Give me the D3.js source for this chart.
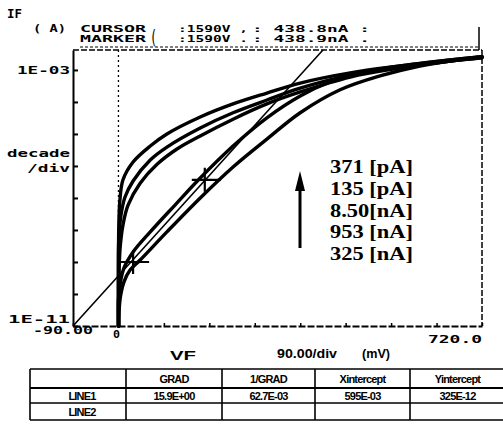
<!DOCTYPE html>
<html>
<head>
<meta charset="utf-8">
<script src="https://cdn.jsdelivr.net/npm/d3@7/dist/d3.min.js"></script>
<style>
  body { margin: 0; background: #fff; }
  svg { display: block; }
  .mono { font-family: "DejaVu Sans Mono", monospace; font-weight: bold; fill: #000; }
  .sans { font-family: "Liberation Sans", Arial, sans-serif; font-weight: bold; fill: #000; }
  .serif { font-family: "Liberation Serif", "Times New Roman", serif; fill: #000; }
</style>
</head>
<body>
<svg id="chart" width="503" height="432"></svg>
<script>
// I-V sweeps, [VF mV, IF A]
const curveA = [[0,1e-11],[0,1.2e-9],[1,2e-8],[3,9e-8],[9,3.7e-7],[29,1.33e-6],[63,4.2e-6],[96,1.0e-5],[162,3.4e-5],[227,8.7e-5],[294,1.9e-4],[360,3.9e-4],[459,8.1e-4],[558,1.33e-3],[657,2.05e-3],[720,2.6e-3]];
const curveB = [[0,1e-11],[0,5.6e-10],[1,6.9e-9],[5,2.9e-8],[13,1.07e-7],[29,3.4e-7],[63,1.54e-6],[96,3.9e-6],[162,1.54e-5],[227,4.6e-5],[294,1.15e-4],[360,2.7e-4],[459,6.9e-4],[558,1.23e-3],[657,1.9e-3],[720,2.6e-3]];
const curveC = [[0,1e-11],[1,2.7e-10],[3,2.4e-9],[9,1.45e-8],[19,6e-8],[43,2.9e-7],[77,1.15e-6],[116,3.4e-6],[162,8.7e-6],[227,2.9e-5],[294,8.7e-5],[360,2.05e-4],[459,6e-4],[558,1.15e-3],[657,1.9e-3],[720,2.4e-3]];
const curveD = [[0,1e-11],[0,6.5e-11],[3,1.9e-10],[11,6.5e-10],[29,2.05e-9],[63,8.7e-9],[112,6e-8],[162,4.2e-7],[227,4.2e-6],[294,3.2e-5],[360,1.54e-4],[419,4.2e-4],[479,8.1e-4],[558,1.33e-3],[657,2.05e-3],[720,2.6e-3]];
const curveE = [[1,1e-11],[3,6.5e-11],[11,2.4e-10],[23,5.6e-10],[43,1.15e-9],[96,8.7e-9],[162,1e-7],[227,9.3e-7],[294,6.9e-6],[360,4.6e-5],[439,2.4e-4],[518,6.5e-4],[597,1.33e-3],[657,1.9e-3],[720,2.4e-3]];
const fitLine = [[-90,1e-11],[405,4.2e-3]];
const cursorPt = [171, 3.7e-7];
const markerPt = [29, 1.0e-9];

const xTicks = [-90,0,90,180,270,360,450,540,630,720];
const yTicks = [1e-11,1e-10,1e-9,1e-8,1e-7,1e-6,1e-5,1e-4,1e-3];
const currentLabels = ["371 [pA]","135 [pA]","8.50[nA]","953 [nA]","325 [nA]"];

const tableHead = ["", "GRAD", "1/GRAD", "Xintercept", "Yintercept"];
const tableRows = [
  ["LINE1", "15.9E+00", "62.7E-03", "595E-03", "325E-12"],
  ["LINE2", "", "", "", ""]
];

const svg = d3.select("#chart");
const x = d3.scaleLinear().domain([-90, 720]).range([73, 482]);
const y = d3.scaleLog().domain([1e-11, 4.2e-3]).range([326, 50]);

function txt(cls, s, px, py, w, size) {
  const t = svg.append("text").attr("class", cls).attr("x", px).attr("y", py)
    .style("font-size", size + "px").attr("xml:space", "preserve").text(s);
  if (w) t.attr("textLength", w).attr("lengthAdjust", "spacingAndGlyphs");
  return t;
}

// frame: left axis solid with inward ticks, others dashed
const yAxis = svg.append("g").attr("transform", "translate(73,0)")
  .call(d3.axisRight(y).tickValues(yTicks).tickSize(5).tickSizeOuter(0).tickFormat(""));
yAxis.selectAll("path,line").attr("stroke", "#000").attr("stroke-width", 2);

const xAxis = svg.append("g").attr("transform", "translate(0,326)")
  .call(d3.axisTop(x).tickValues(xTicks).tickSize(3).tickSizeOuter(0).tickFormat(""));
xAxis.select("path").attr("stroke-width", 2).attr("stroke-dasharray", "7,2");
xAxis.selectAll("line").attr("stroke-width", 1.5);

svg.append("line").attr("x1", x(-90)).attr("x2", x(720)).attr("y1", 50).attr("y2", 50)
  .attr("stroke", "#000").attr("stroke-width", 1.5).attr("stroke-dasharray", "6,2");
svg.append("line").attr("x1", x(720)).attr("x2", x(720)).attr("y1", 50).attr("y2", 326)
  .attr("stroke", "#000").attr("stroke-width", 1.5).attr("stroke-dasharray", "6,2");
svg.append("line").attr("x1", x(0)).attr("x2", x(0)).attr("y1", 50).attr("y2", 326)
  .attr("stroke", "#000").attr("stroke-width", 1.3).attr("stroke-dasharray", "2,3");
svg.append("line").attr("x1", 479).attr("x2", 479).attr("y1", 27).attr("y2", 50)
  .attr("stroke", "#000").attr("stroke-width", 1.5);

// fitted line and curves
const line = d3.line().x(d => x(d[0])).y(d => y(d[1]));
svg.append("path").attr("d", line(fitLine)).attr("fill", "none")
  .attr("stroke", "#000").attr("stroke-width", 1.6);

const curved = d3.line().x(d => x(d[0])).y(d => y(d[1])).curve(d3.curveCatmullRom.alpha(0.5));
[curveA, curveB, curveC, curveD, curveE].forEach(c => {
  svg.append("path").attr("d", curved(c)).attr("fill", "none")
    .attr("stroke", "#000").attr("stroke-width", 3.4)
    .attr("stroke-linejoin", "round").attr("stroke-linecap", "round");
});

// cursor and marker crosses
[cursorPt, markerPt].forEach(p => {
  const cx = x(p[0]), cy = y(p[1]);
  svg.append("path").attr("d", `M${cx - 13},${cy}H${cx + 16}M${cx},${cy - 12}V${cy + 12}`)
    .attr("stroke", "#000").attr("stroke-width", 2.2);
});

// header texts
txt("mono", "IF", 7, 18, 15, 12);
txt("mono", "( A)", 33, 32, 33, 10);
txt("mono", "CURSOR", 80, 32, 66, 9);
txt("mono", "MARKER", 80, 42, 66, 9);
txt("mono", "(", 150, 44, 7, 20).style("font-weight", "normal");
txt("mono", ":1590V ,", 178, 32, 70, 9);
txt("mono", ":1590V .", 178, 42, 70, 9);
txt("mono", ": 438.8nA :", 252, 32, 118, 9);
txt("mono", ": 438.9nA .", 252, 42, 118, 9);
svg.append("line").attr("x1", 80).attr("x2", 479).attr("y1", 47).attr("y2", 47)
  .attr("stroke", "#000").attr("stroke-width", 1).attr("stroke-dasharray", "3,2");

// axis labels
txt("mono", "1E-03", 17, 74, 53, 10);
txt("mono", "decade", 7, 157, 63, 10);
txt("mono", "/div", 27, 172, 43, 10);
txt("mono", "1E-11", 8, 323, 62, 10);
txt("mono", "-90.00", 33, 334, 60, 11);
txt("mono", "0", 113, 338, 7, 11);
txt("mono", "720.0", 428, 343, 54, 11);
txt("sans", "VF", 170, 360, 26, 13);
txt("sans", "90.00/div", 277, 358, 60, 12);
txt("sans", "(mV)", 362, 358, 28, 12);

// current list with arrow
currentLabels.forEach((s, i) => {
  txt("serif", s, 330, 173 + i * 21.8, 83, 19).style("font-weight", "bold");
});
svg.append("line").attr("x1", 300).attr("x2", 300).attr("y1", 248).attr("y2", 186)
  .attr("stroke", "#000").attr("stroke-width", 3);
svg.append("path").attr("d", "M300,171L295,191L305,191Z").attr("fill", "#000");

// fit table
const colEdges = [30, 126, 222, 315, 410, 505];
const rowEdges = [369, 388, 403, 420];
const tbl = svg.append("g");
rowEdges.forEach((ry, i) => {
  tbl.append("line").attr("x1", 30).attr("x2", 503).attr("y1", ry).attr("y2", ry)
    .attr("stroke", "#000").attr("stroke-width", i === 1 ? 2 : 1.4);
});
colEdges.forEach(cx => {
  tbl.append("line").attr("x1", cx).attr("x2", cx).attr("y1", 369).attr("y2", 420)
    .attr("stroke", "#000").attr("stroke-width", 1.6);
});
[tableHead, ...tableRows].forEach((row, r) => {
  row.forEach((cell, c) => {
    if (!cell) return;
    const cx = c === 0 ? 82 : (colEdges[c] + colEdges[c + 1]) / 2;
    tbl.append("text").attr("class", "sans")
      .attr("x", cx).attr("y", (rowEdges[r] + rowEdges[r + 1]) / 2 + 4)
      .attr("text-anchor", "middle").style("font-size", "11px")
      .style("letter-spacing", "-0.8px").text(cell);
  });
});
</script>
</body>
</html>
